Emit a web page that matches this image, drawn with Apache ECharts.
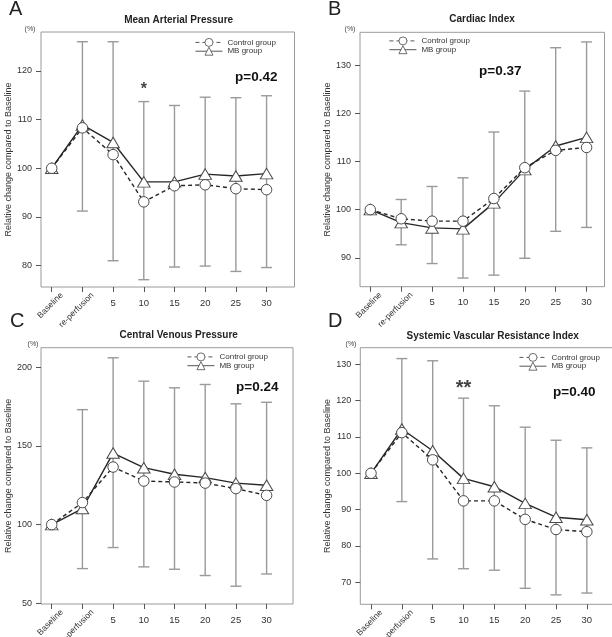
<!DOCTYPE html>
<html><head><meta charset="utf-8">
<script src="https://cdn.jsdelivr.net/npm/echarts@6/dist/echarts.min.js"></script>
<style>html,body{margin:0;padding:0;background:#fff}#c{width:612px;height:637px}</style>
</head><body><div id="c"></div>
<script>
const categories = ['Baseline','re-perfusion','5','10','15','20','25','30'];
const legendNames = ['Control group','MB group'];

const mapControl = [100,108.3,102.8,93.1,96.4,96.6,95.8,95.6];
const mapMB      = [100,108.9,105.3,97.2,97.2,98.8,98.4,98.9];
const mapErrUpper = [null,126.0,126.0,113.7,112.9,114.6,114.5,114.9];
const mapErrLower = [null,91.2,81.0,77.1,79.7,79.9,78.8,79.6];
const mapTicks = [80,90,100,110,120];

const ciControl = [100,98.1,97.6,97.6,102.3,108.7,112.3,112.9];
const ciMB      = [100,97.3,96.2,96.0,101.4,108.3,113.2,115.0];
const ciErrUpper = [null,102.1,104.8,106.6,116.1,124.6,133.6,134.8];
const ciErrLower = [null,92.7,88.8,85.8,86.4,89.9,95.5,96.3];
const ciTicks = [90,100,110,120,130];

const cvpControl = [100,114.0,136.6,127.7,127.1,126.4,122.9,118.6];
const cvpMB      = [100,110.2,145.5,136.2,132.0,129.9,126.4,125.0];
const cvpErrUpper = [null,173.1,206.1,191.2,187.0,189.1,176.8,177.8];
const cvpErrLower = [null,72.0,85.4,73.1,71.6,67.6,60.8,68.6];
const cvpTicks = [50,100,150,200];

const svriControl = [100,111.2,103.7,92.4,92.4,87.3,84.5,83.9];
const svriMB      = [100,112.2,106.2,98.6,96.3,91.7,87.9,87.2];
const svriErrUpper = [null,131.6,131.0,120.7,118.6,112.7,109.1,107.0];
const svriErrLower = [null,92.2,76.4,73.7,73.3,68.3,66.5,67.0];
const svriTicks = [70,80,90,100,110,120,130];

const titles = ['Mean Arterial Pressure','Cardiac Index','Central Venous Pressure','Systemic Vascular Resistance Index'];
const panelLetters = ['A','B','C','D'];
const pValues = ['p=0.42','p=0.37','p=0.24','p=0.40'];
const starLabels = ['*','','','**'];
const starValues = [116.9,null,null,125.0];
const starIndex = 3;

const panels = [
  {control:mapControl, mb:mapMB, up:mapErrUpper, lo:mapErrLower, ticks:mapTicks,
   left:41, top:32, width:253.5, height:255, xMin:-0.349, xMax:7.91, yMin:75.6, yMax:128,
   legend:[195,38], p:[235,70], title:[178.7,20.7], letter:[9,-1], pct:[30,26]},
  {control:ciControl, mb:ciMB, up:ciErrUpper, lo:ciErrLower, ticks:ciTicks,
   left:360, top:32.3, width:244.5, height:254.4, xMin:-0.333, xMax:7.58, yMin:84.0, yMax:136.8,
   legend:[389,36.5], p:[479,64], title:[482,19], letter:[328,-1], pct:[350,26]},
  {control:cvpControl, mb:cvpMB, up:cvpErrUpper, lo:cvpErrLower, ticks:cvpTicks,
   left:41, top:347.7, width:252, height:256.3, xMin:-0.349, xMax:7.86, yMin:49.5, yMax:212.5,
   legend:[187,352.5], p:[236,380], title:[178.7,335.7], letter:[10,311], pct:[33,341]},
  {control:svriControl, mb:svriMB, up:svriErrUpper, lo:svriErrLower, ticks:svriTicks,
   left:360.3, top:347.7, width:254, height:256.6, xMin:-0.347, xMax:7.89, yMin:63.9, yMax:134.6,
   legend:[519,353], p:[553,385.5], title:[492.7,336.7], letter:[328,311], pct:[351,341]}
];

const idx = categories.map((c,i)=>i);
const labelShift = 0.33;

const grid = [], xAxis = [], yAxis = [], series = [], legend = [], graphic = [];
const LINE = '#262626', MARK = '#4a4a4a', ERR = '#9a9a9a', BOX = '#9a9a9a';

panels.forEach((p, g) => {
  grid.push({left:p.left, top:p.top, width:p.width, height:p.height, show:true,
    borderColor:BOX, borderWidth:1, backgroundColor:'transparent', containLabel:false, outerBoundsMode:'none'});
  xAxis.push({type:'value', gridIndex:g, min:p.xMin, max:p.xMax, position:'bottom',
    axisLine:{show:false, onZero:false}, splitLine:{show:false},
    axisTick:{show:true, inside:false, length:5, customValues:idx, lineStyle:{color:'#555'}},
    axisLabel:{customValues:idx.slice(2), formatter:v=>categories[Math.round(v)], fontSize:9.5, color:'#333', margin:11, fontFamily:'Liberation Sans'}});
  xAxis.push({type:'value', gridIndex:g, min:p.xMin-labelShift, max:p.xMax-labelShift, position:'bottom',
    axisLine:{show:false, onZero:false}, splitLine:{show:false}, axisTick:{show:false},
    axisLabel:{customValues:[0,1], formatter:v=>categories[Math.round(v)], rotate:45, fontSize:8.5, color:'#333', margin:7, fontFamily:'Liberation Sans'}});
  yAxis.push({type:'value', gridIndex:g, min:p.yMin, max:p.yMax, position:'left',
    axisLine:{show:false, onZero:false}, splitLine:{show:false},
    axisTick:{show:true, inside:false, length:5, customValues:p.ticks, lineStyle:{color:'#555'}},
    axisLabel:{customValues:p.ticks, fontSize:9, color:'#333', margin:9, fontFamily:'Liberation Sans'},
    name:'Relative change compared to Baseline', nameLocation:'middle', nameGap:27,
    nameTextStyle:{fontSize:9, color:'#333', fontFamily:'Liberation Sans'}});

  const errData = [];
  idx.forEach(i => { if (p.up[i] != null) errData.push([i, p.lo[i], p.up[i]]); });
  series.push({type:'custom', xAxisIndex:2*g, yAxisIndex:g, z:1, silent:true,
    data:errData,
    renderItem:(params, api) => {
      const x = api.value(0);
      const a = api.coord([x, api.value(1)]);
      const b = api.coord([x, api.value(2)]);
      const w = 5.5;
      const st = {stroke:ERR, lineWidth:1.4};
      return {type:'group', children:[
        {type:'line', shape:{x1:a[0], y1:a[1], x2:b[0], y2:b[1]}, style:st},
        {type:'line', shape:{x1:a[0]-w, y1:a[1], x2:a[0]+w, y2:a[1]}, style:st},
        {type:'line', shape:{x1:b[0]-w, y1:b[1], x2:b[0]+w, y2:b[1]}, style:st}
      ]};
    }});
  series.push({type:'line', name:legendNames[0], xAxisIndex:2*g, yAxisIndex:g, z:3,
    data:idx.map(i=>[i, p.control[i]]), symbol:'circle', symbolSize:10.5,
    lineStyle:{color:LINE, width:1.4, type:[4,3]},
    itemStyle:{color:'#fff', borderColor:MARK, borderWidth:1}, animation:false});
  series.push({type:'line', name:legendNames[1], xAxisIndex:2*g, yAxisIndex:g, z:2,
    data:idx.map(i=>[i, p.mb[i]]), symbol:'triangle', symbolSize:[12.5,10.5],
    lineStyle:{color:LINE, width:1.4, type:'solid'},
    itemStyle:{color:'#fff', borderColor:MARK, borderWidth:1}, animation:false});
  if (starLabels[g]) {
    series.push({type:'scatter', xAxisIndex:2*g, yAxisIndex:g, z:4, symbolSize:0, silent:true,
      data:[[starIndex, starValues[g]]],
      label:{show:true, position:'inside', formatter:starLabels[g], fontSize: g===3?20:16, fontWeight:'bold', color:'#111', offset:[0, g===3?6:4]}});
  }
  legend.push({left:p.legend[0], top:p.legend[1], orient:'vertical', itemWidth:27, itemHeight:10, itemGap:0,
    selectedMode:false, data:legendNames, textStyle:{fontSize:8, color:'#333', fontFamily:'Liberation Sans'},
    itemStyle:{color:'#fff', borderColor:MARK, borderWidth:0.8},
    lineStyle:{width:0.9, color:'#444'},
    padding:0});
  graphic.push({type:'text', x:p.title[0], y:p.title[1], style:{text:titles[g], font:'bold 10px "Liberation Sans"', fill:'#222', textAlign:'center', textVerticalAlign:'middle'}});
  graphic.push({type:'text', x:p.letter[0], y:p.letter[1], style:{text:panelLetters[g], font:'20px "Liberation Sans"', fill:'#222'}});
  graphic.push({type:'text', x:p.pct[0], y:p.pct[1], style:{text:'(%)', font:'7px "Liberation Sans"', fill:'#444', textAlign:'center'}});
  graphic.push({type:'text', x:p.p[0], y:p.p[1], style:{text:pValues[g], font:'bold 13.5px "Liberation Sans"', fill:'#111'}});
});

const chart = echarts.init(document.getElementById('c'), null, {renderer:'canvas'});
chart.setOption({animation:false, backgroundColor:'#fff', grid, xAxis, yAxis, series, legend, graphic});
</script></body></html>
